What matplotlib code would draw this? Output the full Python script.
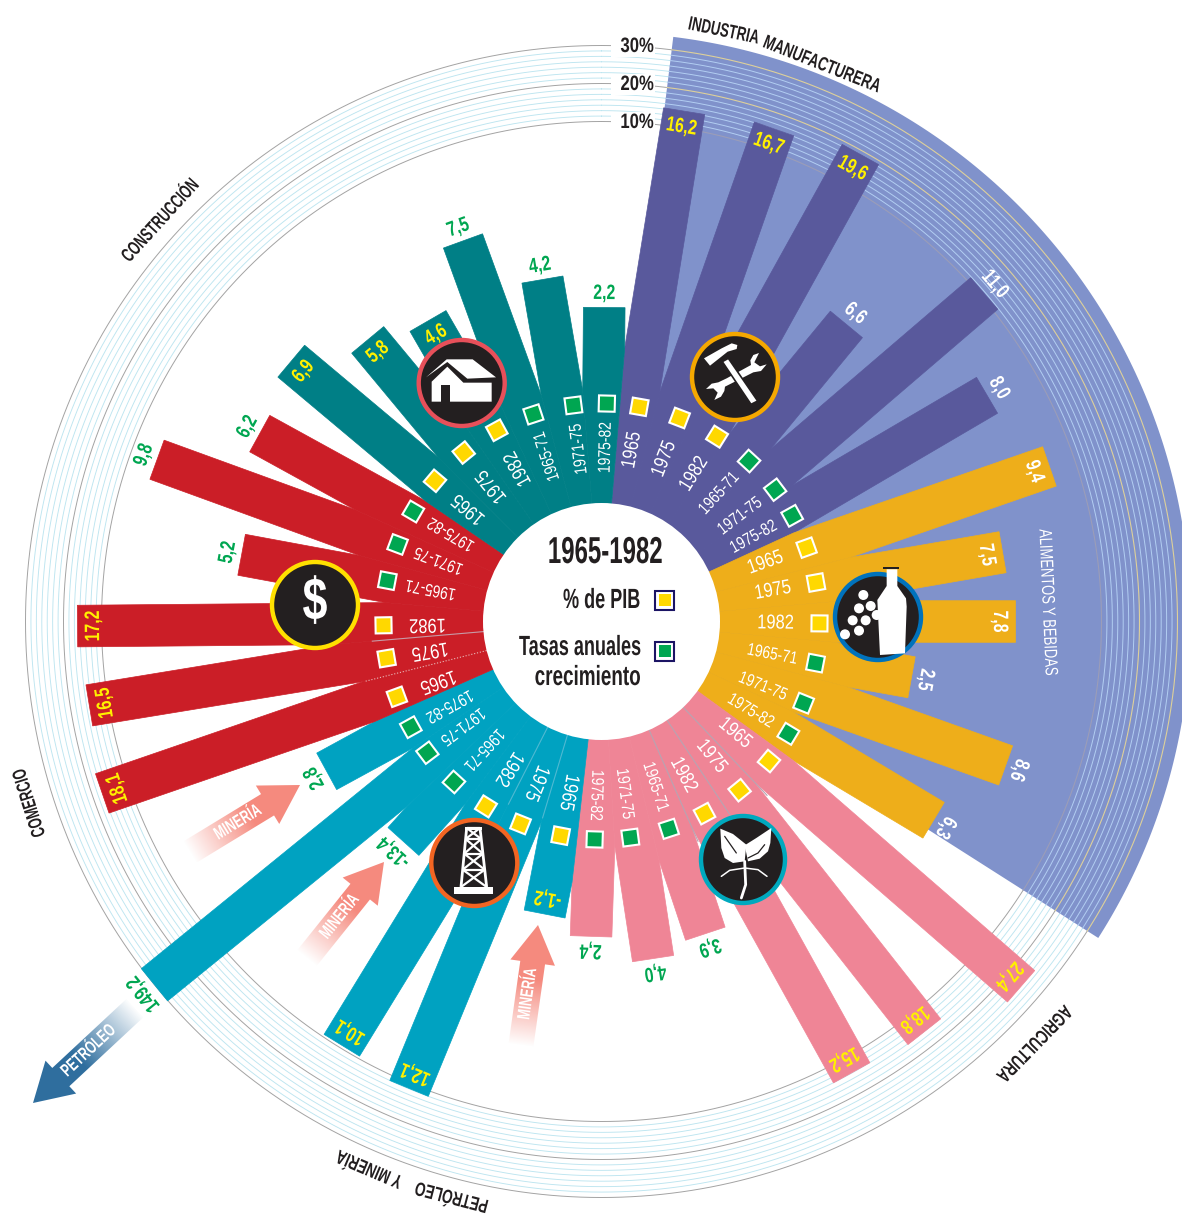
#!/usr/bin/env python3
"""Radial infographic: sector shares of GDP and yearly growth rates, 1965-1982."""
import numpy as np
import matplotlib
matplotlib.use("Agg")
import matplotlib.pyplot as plt
from matplotlib.patches import Polygon, Circle, Ellipse, Rectangle
from matplotlib.patheffects import AbstractPathEffect
from matplotlib.transforms import Affine2D

plt.rcParams['font.family'] = ['Liberation Sans', 'DejaVu Sans']

# --- data, clockwise from the top ---
periods = ["1965", "1975", "1982", "1965-71", "1971-75", "1975-82"]
sectors = ["industria", "alimentos", "agricultura", "petroleo", "comercio", "construccion"]
industria = [16.2, 16.7, 19.6, 6.6, 11.0, 8.0]
alimentos = [9.4, 7.5, 7.8, 2.5, 8.6, 6.3]
agricultura = [27.4, 18.8, 15.2, 3.9, 4.0, 2.4]
petroleo = [-1.2, 12.1, 10.1, -13.4, 149.2, 2.8]
comercio = [18.1, 16.5, 17.2, 5.2, 9.8, 6.2]
construccion = [6.9, 5.8, 4.6, 7.5, 4.2, 2.2]
ring_labels = ["10%", "20%", "30%"]

# the original is not drawn to a linear scale, so lengths are read off it (px from the hub)
reach_industria = [517, 522, 534, 385, 504, 447]
reach_alimentos = [474, 407, 414, 315, 429, 387]
reach_agricultura = [556, 522, 516, 329, 341, 315]
reach_petroleo = [298, 505, 497, 296, 576, 313]
reach_comercio = [528, 519, 524, 366, 473, 390]
reach_construccion = [405, 366, 347, 405, 347, 314]

# --- layout ---
W, H = 1182, 1218
CX, CY = 601.5, 621.5
HUB = 118.5
HALF = 20.8
RING_R = [500, 538, 576]
PX = 72 / 100  # points per pixel

bar_ang = {
    "industria": [9.2, 19.3, 29, 39.5, 49.4, 59.6],
    "alimentos": [70.9, 80.2, 90, 100.2, 109.6, 120.9],
    "agricultura": [131, 141.8, 151, 161.6, 171.3, 181.9],
    "petroleo": [191, 202.4, 211.5, 222, 230.9, 241.4],
    "comercio": [251, 260.7, 269.5, 280.5, 290, 298.8],
    "construccion": [310, 320.3, 330, 340, 350.2, 360.5],
}
mark_ang = {
    "industria": [10, 21, 32, 42.6, 52.8, 61],
    "alimentos": [70.2, 79.7, 90.5, 101, 112, 121],
    "agricultura": [129.8, 140.7, 151.8, 162, 172.4, 181.8],
    "petroleo": [190.8, 201.8, 212, 222.6, 233, 241],
    "comercio": [249.8, 260.3, 269, 280.8, 290.7, 300.3],
    "construccion": [310.2, 320.8, 331.3, 341.8, 352.6, 361.4],
}
colors = {"industria": "#59599C", "alimentos": "#EEAE1A", "agricultura": "#EF8596",
          "petroleo": "#00A2C1", "comercio": "#CB1E27", "construccion": "#007F86"}
values = dict(zip(sectors, [industria, alimentos, agricultura, petroleo, comercio, construccion]))
reach = dict(zip(sectors, [reach_industria, reach_alimentos, reach_agricultura,
                           reach_petroleo, reach_comercio, reach_construccion]))
YEL, GRN, BLACK = "#FFF000", "#00A651", "#231F20"


class Squeeze(AbstractPathEffect):
    # no condensed face is installed, so narrow the glyphs at draw time
    def __init__(self, sx, anchor="center"):
        super().__init__()
        self.sx, self.anchor = sx, anchor

    def draw_path(self, renderer, gc, tpath, affine, rgbFace=None):
        e = tpath.get_extents()
        p = {"center": (e.x0 + e.x1) / 2, "right": e.x1, "left": e.x0}[self.anchor]
        t = Affine2D().translate(-p, 0).scale(self.sx, 1).translate(p, 0)
        renderer.draw_path(gc, tpath, t + affine, rgbFace)


def pol(theta, r):
    t = np.radians(theta)
    return CX + r * np.sin(t), CY - r * np.cos(t)


def local(theta, u, v):
    # u along the spoke, v across it
    t = np.radians(theta)
    return (CX + u * np.sin(t) + v * np.cos(t), CY - u * np.cos(t) + v * np.sin(t))


def zoomed(ox, oy, pts):
    return [(ox + x / 3, oy + y / 3) for x, y in pts]


fig = plt.figure(figsize=(W / 100, H / 100), dpi=100)
ax = fig.add_axes([0, 0, 1, 1])
ax.set_xlim(0, W); ax.set_ylim(H, 0); ax.axis("off")


def label(x, y, s, sx=0.78, anchor="center", **kw):
    kw.setdefault("ha", anchor)
    kw.setdefault("va", "center")
    kw.setdefault("rotation_mode", "anchor")
    t = ax.text(x, y, s, **kw)
    t.set_path_effects([Squeeze(sx, anchor)])
    return t


# --- rings on white ---
phi = np.radians(np.linspace(0, 360, 721))
for k, r0 in enumerate(RING_R):
    ax.plot(CX + r0 * np.sin(phi), CY - r0 * np.cos(phi), color="#A3A3A3", lw=0.7, zorder=1)
    if k < 2:
        for r in np.linspace(r0, RING_R[k + 1], 8)[1:-1]:
            ax.plot(CX + r * np.sin(phi), CY - r * np.cos(phi), color="#BDE5F0", lw=0.65, zorder=1)

# --- periwinkle sector behind industry and food ---
sec = np.radians(np.linspace(7, 122.5, 200))
def sector_band(r_in, r_out, col):
    xo, yo = CX + r_out * np.sin(sec), CY - r_out * np.cos(sec)
    xi, yi = CX + r_in * np.sin(sec[::-1]), CY - r_in * np.cos(sec[::-1])
    ax.add_patch(Polygon(np.c_[np.r_[xo, xi], np.r_[yo, yi]], fc=col, ec="none", zorder=2))
sector_band(HUB - 10, 589, "#8092CB")
for k, r0 in enumerate(RING_R):
    col = "#9B9DB8" if k == 0 else "#DDD09A"
    ax.plot(CX + r0 * np.sin(sec), CY - r0 * np.cos(sec), color=col, lw=0.8, zorder=2.1)
    if k < 2:
        for r in np.linspace(r0, RING_R[k + 1], 8)[1:-1]:
            ax.plot(CX + r * np.sin(sec), CY - r * np.cos(sec), color="#B2CEF2", lw=0.7, zorder=2.1)

# --- bars ---
flat = [a for s in sectors for a in bar_ang[s]]
idx = 0
for s in sectors:
    for i in range(6):
        a = flat[idx]
        left = (a - flat[idx - 1]) % 360 / 2
        right = (flat[(idx + 1) % 36] - a) % 360 / 2
        rl = HALF / np.tan(np.radians(left))
        rr = HALF / np.tan(np.radians(right))
        tip = reach[s][i]
        pts = [local(a, 90, -90 * np.tan(np.radians(left))), local(a, rl, -HALF), local(a, tip, -HALF),
               local(a, tip, HALF), local(a, rr, HALF), local(a, 90, 90 * np.tan(np.radians(right)))]
        ax.add_patch(Polygon(pts, fc=colors[s], ec=colors[s], lw=0.5, zorder=3))
        idx += 1

# thin seams inside some sectors
def seam(a, r0, r1, col, ls="-"):
    x0, y0 = pol(a, r0); x1, y1 = pol(a, r1)
    ax.plot([x0, x1], [y0, y1], color=col, lw=0.8, ls=ls, zorder=3.2)
for a in [136.4, 146.4, 156.3]:
    seam(a, HUB, 240, "#B7A4B2")
seam(196.7, HUB, 205, "#4FB9D2")
seam(207, HUB, 205, "#4FB9D2")
seam(265.1, HUB, 230, "#C79AA6")
seam(255.8, HUB, 245, "#E9B9B9", ":")

# --- period labels, squares and values ---
for s in sectors:
    for i, p in enumerate(periods):
        a, m, tip, v = bar_ang[s][i], mark_ang[s][i], reach[s][i], values[s][i]
        x, y = pol(m, 174)
        label(x, y, p, sx=0.82 if i < 3 else 0.8, color="white", fontsize=14.5 if i < 3 else 12.5,
              rotation=90 - m, zorder=5)
        fill = "#FFD800" if i < 3 else GRN
        sq = [local(m, 218 + du, dv) for du, dv in [(-8, -8), (8, -8), (8, 8), (-8, 8)]]
        ax.add_patch(Polygon(sq, fc=fill, ec="white", lw=1.5, joinstyle="miter", zorder=5))
        if s in ("industria", "alimentos"):
            col = YEL if (s == "industria" and i < 3) else "white"
        else:
            col = YEL if i < 3 else GRN
        r = tip - 16 if i < 3 else tip + 14
        x, y = pol(a, r)
        txt = f"{v:.1f}".replace(".", ",")
        label(x, y, txt, sx=0.76, color=col, fontsize=15, weight="bold", rotation=-a, zorder=5)

# --- hub and legend ---
ax.add_patch(Circle((CX, CY), HUB, fc="white", ec="none", zorder=6))
label(605, 553, "1965-1982", sx=0.64, fontsize=27, weight="bold", color=BLACK, zorder=7)
label(641, 601, "% de PIB", sx=0.65, anchor="right", fontsize=20, weight="bold", color=BLACK, zorder=7)
label(641, 648, "Tasas anuales", sx=0.65, anchor="right", fontsize=20, weight="bold", color=BLACK, zorder=7)
label(641, 678, "crecimiento", sx=0.68, anchor="right", fontsize=20, weight="bold", color=BLACK, zorder=7)
for yc, col in [(600, "#FFD800"), (651, GRN)]:
    ax.add_patch(Rectangle((655, yc - 9.5), 19, 19, fc="white", ec="#1B1464", lw=1.5, zorder=7))
    ax.add_patch(Rectangle((659, yc - 6), 12, 12, fc=col, ec="none", zorder=7.1))

# --- ring and sector captions ---
for lab, r0 in zip(ring_labels, RING_R):
    label(654, CY - r0 + 1, lab, sx=0.8, anchor="right", fontsize=15, weight="bold", color=BLACK, zorder=7,
          bbox=dict(fc="white", ec="none", pad=1))
captions = [("INDUSTRIA", 11.7, 602, 0.68), ("MANUFACTURERA", 21.6, 598, 0.7), ("AGRICULTURA", 134.3, 603, 0.7),
            ("PETRÓLEO", 194.6, 593, 0.7), ("Y MINERÍA", 203, 593, 0.7),
            ("COMERCIO", 252.4, 599, 0.66), ("CONSTRUCCIÓN", 312.3, 595, 0.66)]
for lab, a, r, sx in captions:
    x, y = pol(a, r)
    label(x, y, lab, sx=sx, fontsize=14, weight="bold", color=BLACK, rotation=-a, zorder=7)
x, y = pol(87.5, 446)
label(x, y, "ALIMENTOS Y BEBIDAS", sx=0.72, fontsize=13, color="white", rotation=-87.5, zorder=7)

# --- fading arrows ---
def arrow(tail, tip, col, text, shaft=25, head=45, hl=38, fade=0.55):
    tail, tip = np.array(tail, float), np.array(tip, float)
    d = tip - tail; L = np.hypot(*d); d = d / L; n = np.array([-d[1], d[0]])
    neck = tip - d * hl
    pts = [tail + n * shaft / 2, neck + n * shaft / 2, neck + n * head / 2, tip,
           neck - n * head / 2, neck - n * shaft / 2, tail - n * shaft / 2]
    pts = np.array(pts)
    x0, y0 = pts.min(0) - 2; x1, y1 = pts.max(0) + 2
    gx, gy = np.meshgrid(np.arange(x0, x1), np.arange(y0, y1))
    t = ((gx - tail[0]) * d[0] + (gy - tail[1]) * d[1]) / L
    rgba = np.zeros(gx.shape + (4,))
    rgba[..., :3] = matplotlib.colors.to_rgb(col)
    rgba[..., 3] = np.clip(t / fade, 0, 1)
    poly = Polygon(pts, fc="none", ec="none", transform=ax.transData, zorder=4)
    ax.add_patch(poly)
    im = ax.imshow(rgba, extent=(x0, x1, y1, y0), origin="upper", aspect="auto", zorder=4,
                   interpolation="bilinear")
    im.set_clip_path(poly)
    ang = np.degrees(np.arctan2(-d[1], d[0]))
    if abs(ang) > 90:
        ang += 180
    mid = tail + d * (L - hl) * 0.62
    label(mid[0], mid[1], text, sx=0.68, color="white", fontsize=13, weight="bold", rotation=ang, zorder=4.5)

arrow((190, 852), (300, 785), "#F58A7E", "MINERÍA")
arrow((307, 958), (384, 862), "#F58A7E", "MINERÍA")
arrow((521, 1045), (538, 925), "#F58A7E", "MINERÍA")
arrow((135, 1008), (33, 1103), "#2F6E9E", "PETRÓLEO")
ax.set_xlim(0, W); ax.set_ylim(H, 0)

# --- icons ---
def badge(c, ring, rx=43, ry=43):
    ax.add_patch(Ellipse(c, 2 * rx, 2 * ry, fc=BLACK, ec=ring, lw=4 * PX * 1.1, zorder=8))

# tools
badge((735, 377), "#F5A800")
ox, oy = 685, 325
wrench = [(222, 84), (205, 90), (196, 106), (198, 120), (125, 160), (100, 172), (80, 176), (63, 192), (85, 190),
          (98, 203), (88, 225), (108, 215), (118, 198), (120, 185), (205, 142), (228, 138), (245, 118),
          (225, 124), (208, 112)]
ax.add_patch(Polygon(zoomed(ox, oy, wrench), fc="white", ec="none", zorder=9))
handle = [(112, 110), (130, 100), (218, 228), (198, 238)]
ax.add_patch(Polygon(zoomed(ox, oy, handle), fc="white", ec=BLACK, lw=1.2, zorder=9.1))
hammer = [(57, 100), (110, 70), (140, 55), (157, 60), (155, 72), (128, 80), (75, 122)]
ax.add_patch(Polygon(zoomed(ox, oy, hammer), fc="white", ec="none", zorder=9.2))

# house
badge((461.7, 383), "#E7505A")
ox, oy = 250, 200
ax.add_patch(Polygon(zoomed(ox, oy, [(528, 532), (590, 478), (668, 478), (738, 532), (652, 536), (592, 486)]),
                     fc="white", ec="none", zorder=9))
body = [(545, 545), (592, 500), (640, 548), (725, 548), (725, 605), (545, 605)]
ax.add_patch(Polygon(zoomed(ox, oy, body), fc="white", ec="none", zorder=9))
door = [(573, 555), (600, 555), (600, 605), (573, 605)]
ax.add_patch(Polygon(zoomed(ox, oy, door), fc=BLACK, ec="none", zorder=9.1))

# bottle and grapes
badge((878, 617), "#0072BC")
ox, oy = 700, 440
for gx_, gy_ in [(490, 465), (477, 505), (512, 498), (458, 541), (497, 541), (435, 583), (477, 572), (530, 525)]:
    ax.add_patch(Circle(zoomed(ox, oy, [(gx_, gy_)])[0], 5, fc="white", ec="none", zorder=9))
bottle = [(560, 388), (592, 388), (592, 438), (618, 475), (620, 500), (615, 640), (540, 645), (532, 480), (560, 438)]
ax.add_patch(Polygon(zoomed(ox, oy, bottle), fc="white", ec="none", zorder=9.1))
ax.add_patch(Polygon(zoomed(ox, oy, [(550, 380), (598, 380), (598, 388), (550, 388)]), fc=BLACK, ec="none", zorder=9.2))

# plant
badge((743, 859.5), "#00A9BE", 42, 43.5)
ox, oy = 693, 808
leaf_l = [(82, 62), (120, 78), (160, 110), (155, 160), (120, 165), (95, 150), (85, 120)]
leaf_r = [(235, 60), (232, 105), (225, 130), (200, 152), (165, 160), (155, 112), (190, 90)]
ax.add_patch(Polygon(zoomed(ox, oy, leaf_l), fc="white", ec="none", zorder=9))
ax.add_patch(Polygon(zoomed(ox, oy, leaf_r), fc="white", ec="none", zorder=9))
for pts, col, lw in [([(95, 85), (130, 135)], BLACK, 0.9), ([(215, 110), (195, 135), (165, 150)], BLACK, 0.9),
                     ([(85, 205), (110, 187), (155, 180), (195, 185), (222, 205)], "white", 1.1),
                     ([(155, 160), (158, 230), (145, 270)], "white", 2.0)]:
    q = np.array(zoomed(ox, oy, pts))
    ax.plot(q[:, 0], q[:, 1], color=col, lw=lw, zorder=9.3, solid_capstyle="round")

# derrick
badge((474.3, 863), "#F26522")
ox, oy = 425, 813
lev = np.array([45, 78, 122, 170, 222], float)
lx = np.interp(lev, [45, 222], [125, 108])
rx_ = np.interp(lev, [45, 222], [165, 185])
def seg(p, q, lw=1.6):
    a = zoomed(ox, oy, [p, q])
    ax.plot([a[0][0], a[1][0]], [a[0][1], a[1][1]], color="white", lw=lw, zorder=9, solid_capstyle="butt")
seg((lx[0], lev[0]), (lx[-1], lev[-1]), 2.0); seg((rx_[0], lev[0]), (rx_[-1], lev[-1]), 2.0)
for j in range(4):
    seg((lx[j], lev[j]), (rx_[j + 1], lev[j + 1])); seg((rx_[j], lev[j]), (lx[j + 1], lev[j + 1]))
    seg((lx[j], lev[j]), (rx_[j], lev[j]))
ax.add_patch(Polygon(zoomed(ox, oy, [(87, 222), (203, 222), (203, 242), (87, 242)]), fc="white", ec="none", zorder=9))
ax.add_patch(Polygon(zoomed(ox, oy, [(120, 43), (170, 43), (170, 50), (120, 50)]), fc="white", ec="none", zorder=9))

# dollar
badge((315, 605), "#FFE000")
label(315, 604, "$", sx=0.75, fontsize=43, weight="bold", color="white", zorder=9)

fig.savefig("out.png", dpi=100)
